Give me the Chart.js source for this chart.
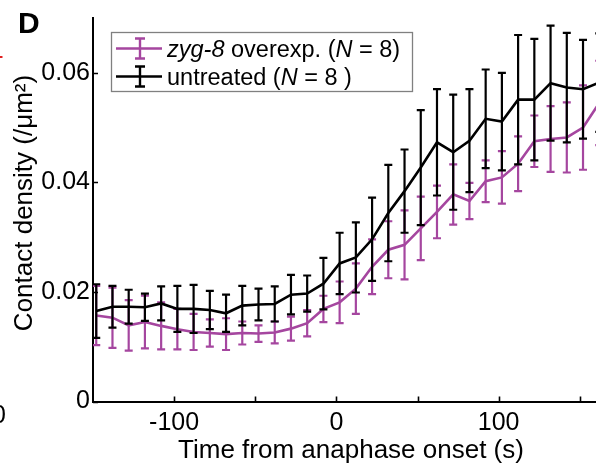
<!DOCTYPE html>
<html>
<head>
<meta charset="utf-8">
<script src="https://cdn.jsdelivr.net/npm/chart.js@4/dist/chart.umd.min.js"></script>
<style>
  html, body { margin: 0; padding: 0; background: #fff; }
  #wrap { width: 596px; height: 468px; }
</style>
</head>
<body>
<div id="wrap"><canvas id="contact-chart" width="596" height="468"></canvas></div>
<script>
// time points (s from anaphase onset)
const times = [-148, -138, -128, -118, -108, -98, -88, -78, -68, -58, -48, -38, -28, -18, -8,
  2, 12, 22, 32, 42, 52, 62, 72, 82, 92, 102, 112, 122, 132, 142, 152, 162];

// zyg-8 overexpression (N = 8)
const zygMean = [0.0157, 0.0153, 0.0139, 0.0145, 0.0138, 0.0132, 0.0127, 0.0125, 0.0123, 0.0125,
  0.0124, 0.0126, 0.0133, 0.0143, 0.0169, 0.0181, 0.0206, 0.0246, 0.0277, 0.0286, 0.0316,
  0.0346, 0.0378, 0.0366, 0.0402, 0.0409, 0.0434, 0.0475, 0.0479, 0.0482, 0.0500, 0.0545];
const zygErr = [0.0054, 0.0055, 0.0046, 0.0048, 0.0043, 0.0037, 0.0033, 0.0025, 0.0029, 0.0021,
  0.0015, 0.0020, 0.0022, 0.0024, 0.0024, 0.0038, 0.0046, 0.0050, 0.0052, 0.0063, 0.0058,
  0.0048, 0.0055, 0.0033, 0.0038, 0.0048, 0.0050, 0.0047, 0.0060, 0.0064, 0.0077, 0.0077];

// untreated (N = 8)
const untMean = [0.0165, 0.0173, 0.0173, 0.0172, 0.0179, 0.0169, 0.0169, 0.0167, 0.0161, 0.0175,
  0.0177, 0.0178, 0.0195, 0.0197, 0.0215, 0.0252, 0.0263, 0.0296, 0.0344, 0.0384, 0.0427,
  0.0473, 0.0455, 0.0476, 0.0516, 0.0511, 0.0551, 0.0551, 0.0581, 0.0573, 0.0570, 0.0582];
const untErr = [0.0049, 0.0038, 0.0031, 0.0025, 0.0031, 0.0042, 0.0044, 0.0035, 0.0034, 0.0036,
  0.0029, 0.0032, 0.0036, 0.0033, 0.0047, 0.0056, 0.0064, 0.0076, 0.0088, 0.0076, 0.0105,
  0.0097, 0.0105, 0.0094, 0.0090, 0.0089, 0.0118, 0.0111, 0.0105, 0.0100, 0.0090, 0.0090];

const xTickMarks = [-100, -50, 0, 50, 100, 150];
const xTickLabels = [-100, 0, 100];
const yTicks = [0, 0.02, 0.04, 0.06];
const xTitle = 'Time from anaphase onset (s)';
const yTitle = 'Contact density (/\u03bcm\u00b2)';

const PURPLE = '#a5469f';
const FONT = "'Liberation Sans', Arial, sans-serif";

const toPoints = (ys) => times.map((t, i) => ({ x: t, y: ys[i] }));

// error bars, drawn right after each dataset so the black one sits on top
const errorBars = {
  id: 'errorBars',
  afterDatasetDraw(chart, args) {
    const ds = chart.data.datasets[args.index];
    if (!ds.errors) return;
    const { ctx, chartArea } = chart;
    const xs = chart.scales.x, ys = chart.scales.y;
    ctx.save();
    ctx.beginPath();
    ctx.rect(chartArea.left, chartArea.top, chartArea.right - chartArea.left, chartArea.bottom - chartArea.top);
    ctx.clip();
    ctx.strokeStyle = ds.borderColor;
    ctx.lineWidth = 2.2;
    ds.data.forEach((p, i) => {
      const px = xs.getPixelForValue(p.x);
      const top = ys.getPixelForValue(p.y + ds.errors[i]);
      const bot = ys.getPixelForValue(p.y - ds.errors[i]);
      ctx.beginPath();
      ctx.moveTo(px, top); ctx.lineTo(px, bot);
      ctx.moveTo(px - 4, top); ctx.lineTo(px + 4, top);
      ctx.moveTo(px - 4, bot); ctx.lineTo(px + 4, bot);
      ctx.stroke();
    });
    ctx.restore();
  }
};

// inward tick marks, axis titles, legend with italic parts, panel letter
const decorations = {
  id: 'decorations',
  afterDraw(chart) {
    const { ctx, chartArea } = chart;
    const xs = chart.scales.x, ys = chart.scales.y;
    ctx.save();
    ctx.strokeStyle = '#000';
    ctx.lineWidth = 1.6;
    ctx.beginPath();
    xTickMarks.forEach(v => {
      const px = Math.round(xs.getPixelForValue(v)) + 0.5;
      ctx.moveTo(px, chartArea.bottom); ctx.lineTo(px, chartArea.bottom - 5);
    });
    yTicks.forEach(v => {
      const py = Math.round(ys.getPixelForValue(v)) + 0.5;
      ctx.moveTo(chartArea.left, py); ctx.lineTo(chartArea.left + 5, py);
    });
    ctx.stroke();

    // axis titles
    ctx.fillStyle = '#000';
    ctx.font = '26px ' + FONT;
    ctx.textAlign = 'center';
    ctx.textBaseline = 'alphabetic';
    ctx.fillText(xTitle, 351, 458);
    ctx.save();
    ctx.translate(32, 203);
    ctx.rotate(-Math.PI / 2);
    ctx.fillText(yTitle, 0, 0);
    ctx.restore();

    // legend
    const lx = 111.5, ly = 32.5, lw = 301, lh = 59;
    ctx.fillStyle = '#fff';
    ctx.fillRect(lx, ly, lw, lh);
    ctx.strokeStyle = '#808080';
    ctx.lineWidth = 1.3;
    ctx.strokeRect(lx, ly, lw, lh);

    const rows = [
      { color: PURPLE, y: 48.5, parts: [['zyg-8', true], [' overexp. (', false], ['N', true], [' = 8)', false]] },
      { color: '#000', y: 76.5, parts: [['untreated (', false], ['N', true], [' = 8 )', false]] }
    ];
    rows.forEach(r => {
      ctx.strokeStyle = r.color;
      ctx.lineWidth = 2.4;
      ctx.beginPath();
      ctx.moveTo(116, r.y); ctx.lineTo(162, r.y);
      ctx.moveTo(140, r.y - 10); ctx.lineTo(140, r.y + 10);
      ctx.moveTo(135, r.y - 10); ctx.lineTo(145, r.y - 10);
      ctx.moveTo(135, r.y + 10); ctx.lineTo(145, r.y + 10);
      ctx.stroke();
      let tx = 167;
      ctx.fillStyle = '#000';
      ctx.textAlign = 'left';
      r.parts.forEach(([s, it]) => {
        ctx.font = (it ? 'italic ' : '') + '23.5px ' + FONT;
        ctx.fillText(s, tx, r.y + 8);
        tx += ctx.measureText(s).width;
      });
    });

    // panel letter and fragments of the neighbouring panel
    ctx.fillStyle = '#000';
    ctx.textAlign = 'left';
    ctx.font = 'bold 30px ' + FONT;
    ctx.fillText('D', 18, 33);
    ctx.font = '25px ' + FONT;
    ctx.fillText('0', -8, 423);
    ctx.strokeStyle = '#e02020';
    ctx.lineWidth = 2;
    ctx.beginPath();
    ctx.moveTo(0, 57); ctx.lineTo(2.5, 57);
    ctx.stroke();
    ctx.restore();
  }
};

new Chart(document.getElementById('contact-chart'), {
  type: 'line',
  data: {
    datasets: [
      {
        label: 'zyg-8 overexp. (N = 8)',
        data: toPoints(zygMean),
        errors: zygErr,
        borderColor: PURPLE,
        borderWidth: 2.6,
        pointRadius: 0,
        tension: 0,
        order: 2
      },
      {
        label: 'untreated (N = 8 )',
        data: toPoints(untMean),
        errors: untErr,
        borderColor: '#000',
        borderWidth: 2.6,
        pointRadius: 0,
        tension: 0,
        order: 1
      }
    ]
  },
  options: {
    responsive: false,
    animation: false,
    layout: { padding: { top: 16, right: 0, left: 0, bottom: 0 } },
    plugins: {
      legend: { display: false },
      tooltip: { enabled: false }
    },
    scales: {
      x: {
        type: 'linear',
        min: -150,
        max: 160,
        grid: { display: false, drawTicks: false },
        border: { display: true, color: '#000', width: 2 },
        afterBuildTicks: (s) => { s.ticks = xTickLabels.map(v => ({ value: v })); },
        ticks: { color: '#000', font: { family: FONT, size: 25 }, padding: 6.5, maxRotation: 0, autoSkip: false },
        afterFit: (s) => { s.height = 66.5; }
      },
      y: {
        min: 0,
        max: 0.07,
        grid: { display: false, drawTicks: false },
        border: { display: true, color: '#000', width: 2 },
        afterBuildTicks: (s) => { s.ticks = yTicks.map(v => ({ value: v })); },
        ticks: {
          color: '#000',
          font: { family: FONT, size: 25 },
          padding: 3,
          callback: (v) => v === 0 ? '0' : v.toFixed(2)
        },
        afterFit: (s) => { s.width = 93; }
      }
    }
  },
  plugins: [errorBars, decorations]
});
</script>
</body>
</html>
